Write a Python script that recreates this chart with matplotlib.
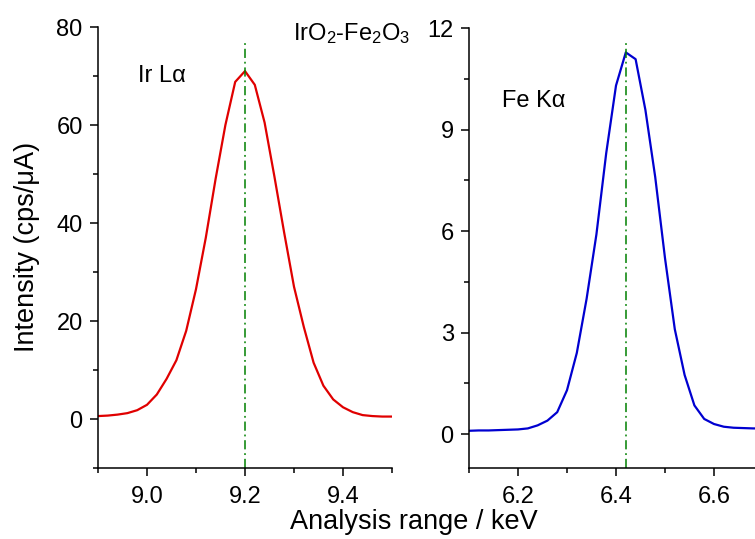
import matplotlib
matplotlib.use("Agg")
import matplotlib.pyplot as plt
from matplotlib.ticker import MultipleLocator

plt.rcParams['font.family'] = ['Liberation Sans', 'DejaVu Sans']
plt.rcParams['mathtext.default'] = 'regular'

# Ir L-alpha (left panel)
ir_energy = [8.90, 8.92, 8.94, 8.96, 8.98, 9.00, 9.02, 9.04, 9.06, 9.08,
             9.10, 9.12, 9.14, 9.16, 9.18, 9.20, 9.22, 9.24, 9.26, 9.28,
             9.30, 9.32, 9.34, 9.36, 9.38, 9.40, 9.42, 9.44, 9.46, 9.48, 9.50]
ir_intensity = [0.6, 0.7, 0.9, 1.2, 1.8, 2.9, 5.0, 8.2, 12.0, 18.0,
                26.5, 37.0, 49.0, 60.0, 68.8, 71.0, 68.2, 60.5, 49.5, 38.0,
                27.0, 18.8, 11.5, 6.8, 4.0, 2.4, 1.4, 0.8, 0.6, 0.5, 0.5]
ir_peak = 9.20
ir_peak_line_top = 76.7

# Fe K-alpha (right panel)
fe_energy = [6.10, 6.12, 6.14, 6.16, 6.18, 6.20, 6.22, 6.24, 6.26, 6.28,
             6.30, 6.32, 6.34, 6.36, 6.38, 6.40, 6.42, 6.44, 6.46, 6.48,
             6.50, 6.52, 6.54, 6.56, 6.58, 6.60, 6.62, 6.64, 6.66, 6.68, 6.70]
fe_intensity = [0.10, 0.11, 0.11, 0.12, 0.13, 0.14, 0.17, 0.26, 0.40, 0.65,
                1.30, 2.40, 4.00, 5.90, 8.30, 10.30, 11.28, 11.08, 9.58, 7.60,
                5.20, 3.10, 1.75, 0.85, 0.45, 0.30, 0.22, 0.19, 0.18, 0.17, 0.17]
fe_peak = 6.42
fe_peak_line_top = 11.65

fig = plt.figure(figsize=(7.55, 5.39), dpi=100)
ax1 = fig.add_axes([0.1298, 0.1317, 0.3894, 0.8182])
ax2 = fig.add_axes([0.6212, 0.1317, 0.3894, 0.8163])

fs_tick = 17
fs_lab = 19.5
fs_ann = 17

def style(ax):
    for s in ['top', 'right']:
        ax.spines[s].set_visible(False)
    for s in ['left', 'bottom']:
        ax.spines[s].set_linewidth(1.1)
    ax.tick_params(which='major', direction='out', length=6, width=1.1, labelsize=fs_tick)
    ax.tick_params(axis='x', which='major', pad=7)
    ax.tick_params(axis='y', which='major', pad=5)
    ax.tick_params(which='minor', direction='out', length=3.5, width=1.1)
    ax.patch.set_alpha(0)

dash = (0, (6, 2.5, 1.2, 2.5))

ax1.plot(ir_energy, ir_intensity, color='#e00000', lw=1.6)
ax1.plot([ir_peak, ir_peak], [-10, ir_peak_line_top], color='#008000', lw=1.1, linestyle=dash)
ax1.set_xlim(8.9, 9.5)
ax1.set_ylim(-10, 80)
ax1.xaxis.set_major_locator(MultipleLocator(0.2))
ax1.xaxis.set_minor_locator(MultipleLocator(0.1))
ax1.yaxis.set_major_locator(MultipleLocator(20))
ax1.yaxis.set_minor_locator(MultipleLocator(10))
ax1.xaxis.set_major_formatter(plt.FuncFormatter(lambda v, p: f"{v:.1f}"))
style(ax1)

ax2.plot(fe_energy, fe_intensity, color='#0000d0', lw=1.6)
ax2.plot([fe_peak, fe_peak], [-1, fe_peak_line_top], color='#008000', lw=1.1, linestyle=dash)
ax2.set_xlim(6.1, 6.7)
ax2.set_ylim(-1, 12)
ax2.xaxis.set_major_locator(MultipleLocator(0.2))
ax2.xaxis.set_minor_locator(MultipleLocator(0.1))
ax2.yaxis.set_major_locator(MultipleLocator(3))
ax2.yaxis.set_minor_locator(MultipleLocator(1.5))
ax2.xaxis.set_major_formatter(plt.FuncFormatter(lambda v, p: f"{v:.1f}"))
style(ax2)

W, H = 755, 539
fig.text(138 / W, 1 - 82 / H, 'Ir Lα', fontsize=fs_ann, ha='left', va='baseline')
fig.text(293 / W, 1 - 40 / H, 'IrO$_2$-Fe$_2$O$_3$', fontsize=fs_ann, ha='left', va='baseline')
fig.text(502 / W, 1 - 107 / H, 'Fe Kα', fontsize=fs_ann, ha='left', va='baseline')
fig.text(414 / W, 1 - 529 / H, 'Analysis range / keV', fontsize=fs_lab, ha='center', va='baseline')
fig.text(27 / W, 1 - 247 / H, 'Intensity (cps/μA)', fontsize=fs_lab, ha='center', va='center',
         rotation=90)

fig.savefig('out.png', dpi=100, facecolor='white')
